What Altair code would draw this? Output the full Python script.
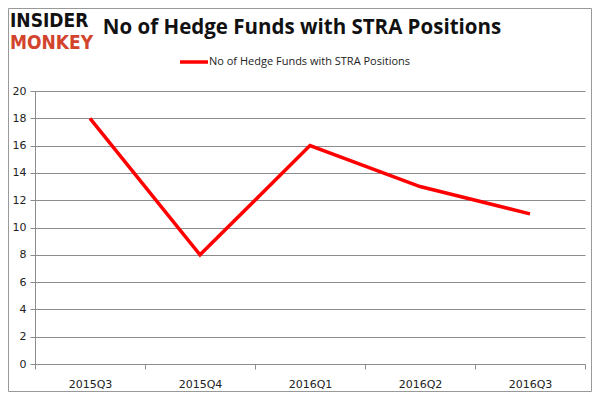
import altair as alt
import pandas as pd

quarters = ["2015Q3", "2015Q4", "2016Q1", "2016Q2", "2016Q3"]
funds = [18, 8, 16, 13, 11]
series_name = "No of Hedge Funds with STRA Positions"
title_text = "No of Hedge Funds with STRA Positions"

df = pd.DataFrame({"quarter": quarters, "funds": funds})

W, H = 550, 273
grid_color = "#8c8c8c"

x_enc = alt.X("quarter:O", sort=quarters, title=None,
              scale=alt.Scale(type="band", paddingInner=0, paddingOuter=0),
              axis=alt.Axis(labelAngle=0, labelFont="DejaVu Sans", labelFontSize=11,
                            labelColor="#222", domainColor=grid_color, tickColor=grid_color,
                            tickSize=5, tickBand="extent", labelPadding=9, grid=False))
y_enc = alt.Y("funds:Q", title=None,
              scale=alt.Scale(domain=[0, 20], nice=False),
              axis=alt.Axis(values=list(range(0, 21, 2)), labelFont="DejaVu Sans",
                            labelFontSize=11, labelColor="#222", domainColor=grid_color,
                            tickColor=grid_color, tickSize=5, gridColor=grid_color,
                            gridOpacity=1, labelPadding=4))

line = alt.Chart(df).mark_line(color="#ff0000", strokeWidth=3.5).encode(x=x_enc, y=y_enc)

base = alt.Chart(pd.DataFrame({"a": [0]}))

border = base.mark_rect(fill=None, stroke="#999999", strokeWidth=1).encode(
    x=alt.value(-26.5), x2=alt.value(556.5), y=alt.value(-82.5), y2=alt.value(300.5))

title = base.mark_text(fontSize=20.5, fontWeight="bold", font="Open Sans", color="#111",
                       align="center", baseline="middle").encode(
    x=alt.value(267), y=alt.value(-63), text=alt.value(title_text))

leg_line = base.mark_rule(color="#ff0000", strokeWidth=3.5).encode(
    x=alt.value(145), x2=alt.value(173), y=alt.value(-29))
leg_text = base.mark_text(fontSize=11, font="Open Sans", color="#222",
                          align="left", baseline="middle").encode(
    x=alt.value(174), y=alt.value(-29), text=alt.value(series_name))

logo1 = base.mark_text(fontSize=19, fontWeight="bold", font="DejaVu Sans Condensed",
                       color="#111", align="left", baseline="middle").encode(
    x=alt.value(-25), y=alt.value(-70.5), text=alt.value("INSIDER"))
logo2 = base.mark_text(fontSize=19, fontWeight="bold", font="DejaVu Sans Condensed",
                       color="#d2442c", align="left", baseline="middle").encode(
    x=alt.value(-25), y=alt.value(-48.5), text=alt.value("MONKEY"))

chart = alt.layer(line, border, title, leg_line, leg_text, logo1, logo2).properties(
    width=W, height=H,
    autosize=alt.AutoSizeParams(type="none"),
    padding={"left": 27, "top": 83, "right": 7, "bottom": 28},
).configure_view(stroke=None)

chart.save("out.html", embed_options={"renderer": "svg", "actions": False})
